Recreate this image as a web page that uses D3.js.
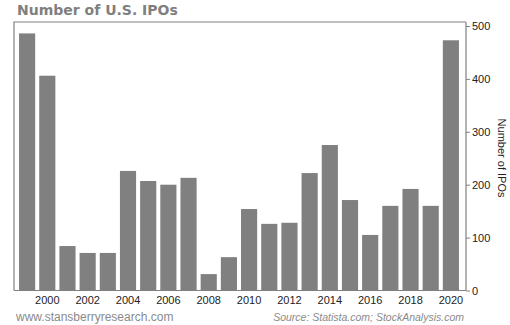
<!DOCTYPE html>
<html>
<head>
<meta charset="utf-8">
<script src="https://cdn.jsdelivr.net/npm/d3@7"></script>
<style>
  html, body { margin: 0; padding: 0; background: #fff; }
  svg { display: block; }
</style>
</head>
<body>
<svg id="chart" width="510" height="325"></svg>
<script>
// Annual count of U.S. initial public offerings
const years = [1999, 2000, 2001, 2002, 2003, 2004, 2005, 2006, 2007, 2008, 2009,
               2010, 2011, 2012, 2013, 2014, 2015, 2016, 2017, 2018, 2019, 2020];
const ipos  = [486, 406, 84, 71, 71, 226, 207, 200, 213, 31, 63,
               154, 126, 128, 222, 275, 171, 105, 160, 192, 160, 473];
const yTicks = [0, 100, 200, 300, 400, 500];
const xLabels = [2000, 2002, 2004, 2006, 2008, 2010, 2012, 2014, 2016, 2018, 2020];

const svg = d3.select("#chart");
const plot = { left: 14, right: 466, top: 22, bottom: 290.5 };

const x = d3.scaleBand()
  .domain(years)
  .range([15, 463])
  .paddingInner(0.2)
  .paddingOuter(0.2);

const y = d3.scaleLinear()
  .domain([0, 500])
  .range([plot.bottom, 26]);

// Title
svg.append("text")
  .attr("x", 17).attr("y", 15)
  .attr("font-family", "Verdana, 'DejaVu Sans', sans-serif")
  .attr("font-weight", "bold")
  .attr("font-size", 14)
  .attr("fill", "#7f7f7f")
  .text("Number of U.S. IPOs");

// Bars
svg.append("g")
  .selectAll("rect")
  .data(years.map((yr, i) => ({ yr, v: ipos[i] })))
  .join("rect")
  .attr("x", d => x(d.yr))
  .attr("width", x.bandwidth())
  .attr("y", d => y(d.v))
  .attr("height", d => y(0) - y(d.v))
  .attr("fill", "#808080");

// Plot frame (top and left edges)
svg.append("path")
  .attr("d", `M${plot.left},${plot.bottom}V${plot.top}H${plot.right}`)
  .attr("fill", "none")
  .attr("stroke", "#808080")
  .attr("stroke-width", 1.2);

// Right value axis
const yAxis = svg.append("g")
  .attr("transform", `translate(${plot.right},0)`)
  .call(d3.axisRight(y).tickValues(yTicks).tickSize(4).tickPadding(2));
yAxis.select(".domain")
  .attr("d", `M0,${plot.top}V${plot.bottom}`)
  .attr("stroke", "#808080").attr("stroke-width", 1.2);
yAxis.selectAll(".tick line").attr("stroke", "#808080");
yAxis.selectAll(".tick text")
  .attr("font-family", "Arial, 'Liberation Sans', sans-serif")
  .attr("font-size", 11)
  .attr("fill", "#222");

// Bottom category axis
const xAxis = svg.append("g")
  .attr("transform", `translate(0,${plot.bottom})`)
  .call(d3.axisBottom(x).tickValues(xLabels).tickSize(0).tickPadding(6));
xAxis.select(".domain")
  .attr("d", `M${plot.left},0H${plot.right}`)
  .attr("stroke", "#808080").attr("stroke-width", 1.2);
xAxis.selectAll(".tick text")
  .attr("font-family", "Arial, 'Liberation Sans', sans-serif")
  .attr("font-size", 11)
  .attr("fill", "#222");

// Axis title
svg.append("text")
  .attr("transform", `translate(498,158) rotate(90)`)
  .attr("text-anchor", "middle")
  .attr("font-family", "Arial, 'Liberation Sans', sans-serif")
  .attr("font-size", 11)
  .attr("fill", "#222")
  .text("Number of IPOs");

// Footer
svg.append("text")
  .attr("x", 16).attr("y", 321)
  .attr("font-family", "Arial, 'Liberation Sans', sans-serif")
  .attr("font-size", 12)
  .attr("fill", "#8a8a8a")
  .text("www.stansberryresearch.com");

svg.append("text")
  .attr("x", 464).attr("y", 321)
  .attr("text-anchor", "end")
  .attr("font-family", "Arial, 'Liberation Sans', sans-serif")
  .attr("font-size", 10.5)
  .attr("font-style", "italic")
  .attr("fill", "#8a8a8a")
  .text("Source: Statista.com; StockAnalysis.com");
</script>
</body>
</html>
